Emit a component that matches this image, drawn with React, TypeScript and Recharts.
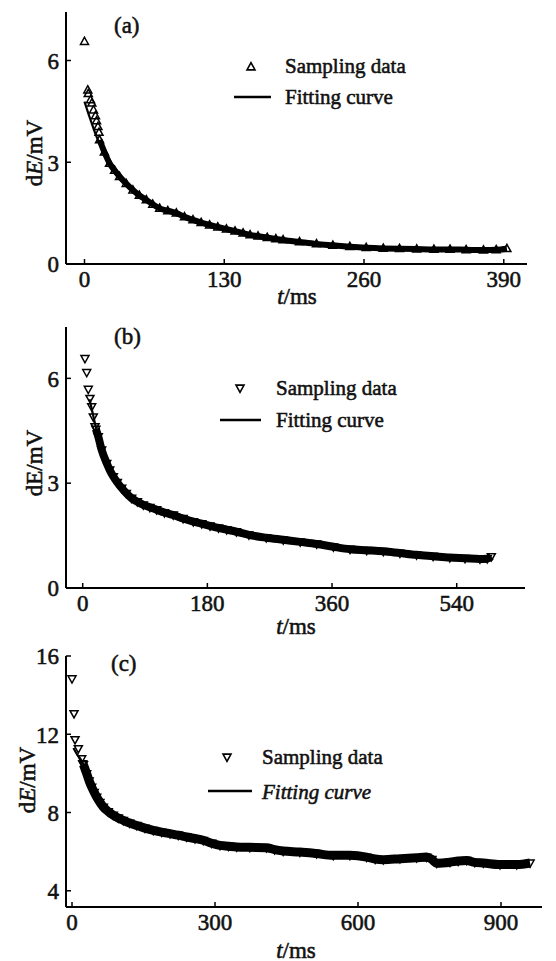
import { ComposedChart, Line, Scatter, XAxis, YAxis, Legend } from "recharts";

const FONT = '"Liberation Serif", "Times New Roman", serif';
const INK = "#111";
const HEAVY = { stroke: INK, strokeWidth: 0.55 };

// ---- panel (a) ----
const sampleTimeA = [0, 3.1, 3.5, 5.6, 6.8, 8.4, 10.2, 11.2, 12.5, 13.5,
  14, 18.5, 23.3, 28, 32.6, 38.8, 45, 51, 57.5, 63.5, 69.9, 77.5, 85.4, 93, 100.9,
  108.5, 116.4, 124, 132, 140, 147.5, 154, 161.4, 170, 178, 184.7, 200, 215.8, 231,
  246.8, 262, 277.9, 293, 309, 325, 340, 355, 371.1, 383, 392.9];
const sampleValueA = [6.56, 5.13, 5.02, 4.84, 4.74, 4.54, 4.37, 4.22, 4.05, 3.88,
  3.66, 3.3, 2.97, 2.76, 2.58, 2.37, 2.18, 2.02, 1.89, 1.76, 1.64, 1.57, 1.5, 1.39, 1.3,
  1.22, 1.15, 1.09, 1.03, 0.97, 0.91, 0.86, 0.82, 0.78, 0.74, 0.71, 0.65, 0.59, 0.55,
  0.51, 0.48, 0.46, 0.45, 0.44, 0.43, 0.43, 0.42, 0.41, 0.42, 0.45];
const fitTimeA = [0, 5.4, 10.9, 16, 23, 32, 45, 58, 70, 85, 100, 116, 132, 148, 162, 185,
  216, 247, 278, 309, 340, 371, 393];
const fitValueA = [4.79, 4.27, 3.78, 3.42, 3.0, 2.6, 2.17, 1.88, 1.65, 1.48, 1.31, 1.16,
  1.03, 0.92, 0.83, 0.72, 0.6, 0.52, 0.47, 0.44, 0.43, 0.42, 0.42];
const xTicksA = [0, 130, 260, 390];
const yTicksA = [0, 3, 6];

// ---- panel (b) ----
const sampleTimeB = [3.3, 5.8, 8.1, 10.5, 13, 15.3, 17.8,
  19, 22.5, 27.4, 34.7, 39, 44.2, 50, 56.3, 63, 70.7, 79, 87.5, 97, 106.8, 118, 130.8,
  145, 159.7, 172, 183.8, 196, 207.9, 222, 240, 265, 289.6, 314, 337.9, 362, 386, 410,
  434, 458, 482, 506, 530, 552, 573.6, 584, 590];
const sampleValueB = [6.57, 6.17, 5.69, 5.43, 5.19, 4.9, 4.62,
  4.55, 4.33, 3.95, 3.57, 3.38, 3.19, 3.02, 2.86, 2.71, 2.57, 2.47, 2.38, 2.31, 2.24, 2.16,
  2.09, 1.99, 1.9, 1.84, 1.78, 1.72, 1.67, 1.61, 1.52, 1.44, 1.38, 1.32, 1.26, 1.18, 1.11,
  1.08, 1.05, 1.0, 0.95, 0.91, 0.87, 0.85, 0.83, 0.84, 0.9];
const fitTimeB = [10, 15, 20, 27, 35, 44, 56, 70, 88, 107, 131, 160, 184, 208, 240, 290,
  338, 386, 434, 482, 530, 574, 588];
const fitValueB = [5.4, 4.95, 4.52, 4.0, 3.56, 3.2, 2.86, 2.58, 2.38, 2.24, 2.08, 1.9,
  1.78, 1.67, 1.53, 1.38, 1.25, 1.12, 1.04, 0.96, 0.88, 0.84, 0.85];
const xTicksB = [0, 180, 360, 540];
const yTicksB = [0, 3, 6];

// ---- panel (c) ----
const sampleTimeC = [0, 4.2, 6.3, 13.3, 20.3, 22.4,
  24, 30.8, 36, 41.3, 46.5, 51.8, 58.5, 65.7, 76, 86.6, 97, 107.6, 121, 135.7, 153, 170.5,
  188, 205.6, 223, 240.6, 258, 275.4, 293, 310.5, 328, 345.5, 373, 408, 425, 443, 478, 513,
  548, 583, 618, 636, 653, 688, 723, 744, 755, 765, 793, 810, 828, 845, 863, 898, 933, 961];
const sampleValueC = [14.84, 13.06, 11.73, 11.27, 10.75, 10.5,
  10.45, 9.99, 9.62, 9.3, 9.03, 8.79, 8.52, 8.28, 8.05, 7.86, 7.72, 7.6, 7.46, 7.34, 7.2,
  7.09, 7.0, 6.92, 6.84, 6.75, 6.67, 6.58, 6.43, 6.32, 6.28, 6.24, 6.22, 6.2, 6.1, 6.03,
  5.98, 5.9, 5.81, 5.81, 5.72, 5.62, 5.59, 5.64, 5.69, 5.72, 5.6, 5.41, 5.46, 5.52, 5.55,
  5.45, 5.42, 5.34, 5.34, 5.42];
const fitTimeC = [3, 10, 20, 31, 41, 52, 66, 87, 108, 136, 171, 206, 241, 275, 311, 346,
  408, 478, 548, 618, 688, 765, 828, 898, 961];
const fitValueC = [11.3, 11.0, 10.65, 10.0, 9.3, 8.8, 8.28, 7.86, 7.6, 7.34, 7.09, 6.92,
  6.75, 6.58, 6.35, 6.25, 6.15, 5.98, 5.83, 5.72, 5.64, 5.52, 5.46, 5.37, 5.38];
const xTicksC = [0, 300, 600, 900];
const yTicksC = [4, 8, 12, 16];

const seriesNames = ["Sampling data", "Fitting curve"];

const zip = (t: number[], v: number[]) => t.map((x, i) => ({ t: x, v: v[i] }));

const triPath = (cx: number, cy: number, s: number, up: boolean) => {
  const h = s * 0.9;
  return up
    ? `M${cx},${cy - h * 0.6}L${cx - s / 2},${cy + h * 0.4}L${cx + s / 2},${cy + h * 0.4}Z`
    : `M${cx},${cy + h * 0.6}L${cx - s / 2},${cy - h * 0.4}L${cx + s / 2},${cy - h * 0.4}Z`;
};

const TM = 7;

const makeXTick = (props: any) => {
  const { x, y, payload } = props;
  return (
    <g>
      <line x1={x} x2={x} y1={y - TM} y2={y - TM - 5} stroke="#000" strokeWidth={1.5} />
      <text x={x} y={y} dy="0.71em" textAnchor="middle" fontFamily={FONT} fontSize={23} fill={INK} {...HEAVY}>
        {payload.value}
      </text>
    </g>
  );
};

const makeYTick = (props: any) => {
  const { x, y, payload } = props;
  return (
    <g>
      <line x1={x + TM} x2={x + TM + 5} y1={y} y2={y} stroke="#000" strokeWidth={1.5} />
      <text x={x} y={y} dy="0.36em" textAnchor="end" fontFamily={FONT} fontSize={23} fill={INK} {...HEAVY}>
        {payload.value}
      </text>
    </g>
  );
};

type PanelProps = {
  top: number;
  height: number;
  margin: { top: number; right: number; left: number; bottom: number };
  xAxisHeight: number;
  xDomain: [number, number];
  yDomain: [number, number];
  xTicks: number[];
  yTicks: number[];
  samples: { t: number; v: number }[];
  fit: { t: number; v: number }[];
  head: number;
  band: number;
  up: boolean;
  tag: string;
  tagPos: [number, number];
  yTitle: [number, number];
  italicE: boolean;
  xTitle: [number, number];
  legendMark: [number, number];
  legendLine: [number, number, number];
  legendText: [number, number, number];
  italicFit?: boolean;
};

const Panel = (p: PanelProps) => {
  const triShape = (props: any) => (
    <path d={triPath(props.cx, props.cy, 8, p.up)} fill="#fff" fillOpacity={0} stroke="#000" strokeWidth={1.5} />
  );
  const legend = () => (
    <svg width={556} height={p.height} style={{ position: "absolute", left: 0, top: 0, overflow: "visible" }}>
      <path d={triPath(p.legendMark[0], p.legendMark[1], 8, p.up)} fill="none" stroke="#000" strokeWidth={1.6} />
      <text x={p.legendText[0]} y={p.legendText[1]} dominantBaseline="central" fontFamily={FONT} fontSize={21} fill={INK} {...HEAVY}>
        {seriesNames[0]}
      </text>
      <line x1={p.legendLine[0]} x2={p.legendLine[1]} y1={p.legendLine[2]} y2={p.legendLine[2]} stroke="#000" strokeWidth={2.5} />
      <text
        x={p.legendText[0]}
        y={p.legendText[2]}
        dominantBaseline="central"
        fontFamily={FONT}
        fontSize={21}
        fontStyle={p.italicFit ? "italic" : "normal"}
        fill={INK}
        {...HEAVY}
      >
        {seriesNames[1]}
      </text>
      <text x={p.tagPos[0]} y={p.tagPos[1]} dominantBaseline="central" fontFamily={FONT} fontSize={23} fill={INK} {...HEAVY}>
        {p.tag}
      </text>
      <text
        x={p.yTitle[0]}
        y={p.yTitle[1]}
        textAnchor="middle"
        dominantBaseline="central"
        transform={`rotate(-90 ${p.yTitle[0]} ${p.yTitle[1]})`}
        fontFamily={FONT}
        fontSize={23}
        fill={INK}
        {...HEAVY}
      >
        d<tspan fontStyle={p.italicE ? "italic" : "normal"}>E</tspan>/mV
      </text>
      <text x={p.xTitle[0]} y={p.xTitle[1]} textAnchor="middle" dominantBaseline="central" fontFamily={FONT} fontSize={23} fill={INK} {...HEAVY}>
        <tspan fontStyle="italic">t</tspan>/ms
      </text>
    </svg>
  );

  return (
    <div style={{ position: "absolute", left: 0, top: p.top }}>
      <ComposedChart width={556} height={p.height} margin={p.margin}>
        <XAxis
          dataKey="t"
          type="number"
          domain={p.xDomain}
          ticks={p.xTicks}
          allowDataOverflow
          height={p.xAxisHeight}
          axisLine={{ stroke: "#000", strokeWidth: 2 }}
          tickLine={false}
          tickSize={0}
          tickMargin={TM}
          tick={makeXTick}
        />
        <YAxis
          dataKey="v"
          type="number"
          domain={p.yDomain}
          ticks={p.yTicks}
          allowDataOverflow
          width={56}
          axisLine={{ stroke: "#000", strokeWidth: 2 }}
          tickLine={false}
          tickSize={0}
          tickMargin={TM}
          tick={makeYTick}
        />
        <Line
          data={p.fit}
          dataKey="v"
          type="monotone"
          stroke="#000"
          strokeWidth={2.2}
          dot={false}
          isAnimationActive={false}
          name={seriesNames[1]}
        />
        <Scatter
          data={p.samples.slice(p.head - 1)}
          shape={() => <g />}
          line={{ stroke: "#000", strokeWidth: p.band }}
          lineJointType="monotoneX"
          isAnimationActive={false}
          legendType="none"
        />
        <Scatter data={p.samples} shape={triShape} isAnimationActive={false} name={seriesNames[0]} />
        <Legend
          layout="vertical"
          align="center"
          verticalAlign="middle"
          wrapperStyle={{ left: 0, top: 0, width: 556, height: p.height }}
          content={legend}
        />
      </ComposedChart>
    </div>
  );
}

export default function App() {
  return (
    <div style={{ position: "absolute", left: 0, top: 0, width: 556, height: 961, background: "#fff" }}>
      <Panel
        top={0}
        height={310}
        margin={{ top: 12, right: 29, left: 10, bottom: 0 }}
        xAxisHeight={46}
        xDomain={[-17.2, 411.6]}
        yDomain={[0, 7.43]}
        xTicks={xTicksA}
        yTicks={yTicksA}
        samples={zip(sampleTimeA, sampleValueA)}
        fit={zip(fitTimeA, fitValueA)}
        head={11}
        band={6}
        up={true}
        tag="(a)"
        tagPos={[114, 25]}
        yTitle={[34, 153]}
        italicE={true}
        xTitle={[297, 296]}
        legendMark={[251, 67]}
        legendLine={[234, 271, 97]}
        legendText={[285, 66, 97]}
      />
      <Panel
        top={315}
        height={320}
        margin={{ top: 12, right: 31, left: 10, bottom: 0 }}
        xAxisHeight={47}
        xDomain={[-24.1, 638.6]}
        yDomain={[0, 7.47]}
        xTicks={xTicksB}
        yTicks={yTicksB}
        samples={zip(sampleTimeB, sampleValueB)}
        fit={zip(fitTimeB, fitValueB)}
        head={8}
        band={8}
        up={false}
        tag="(b)"
        tagPos={[114, 21]}
        yTitle={[34, 148]}
        italicE={false}
        xTitle={[296, 311]}
        legendMark={[240, 73]}
        legendLine={[220, 261, 105]}
        legendText={[276, 73, 105]}
      />
      <Panel
        top={640}
        height={320}
        margin={{ top: 16, right: 14, left: 10, bottom: 0 }}
        xAxisHeight={53}
        xDomain={[-12.6, 986]}
        yDomain={[3.17, 16]}
        xTicks={xTicksC}
        yTicks={yTicksC}
        samples={zip(sampleTimeC, sampleValueC)}
        fit={zip(fitTimeC, fitValueC)}
        head={7}
        band={9}
        up={false}
        tag="(c)"
        tagPos={[111, 23]}
        yTitle={[27, 140]}
        italicE={true}
        xTitle={[296, 310]}
        legendMark={[227, 117]}
        legendLine={[208, 252, 151]}
        legendText={[262, 117, 152]}
        italicFit={true}
      />
    </div>
  );
}
